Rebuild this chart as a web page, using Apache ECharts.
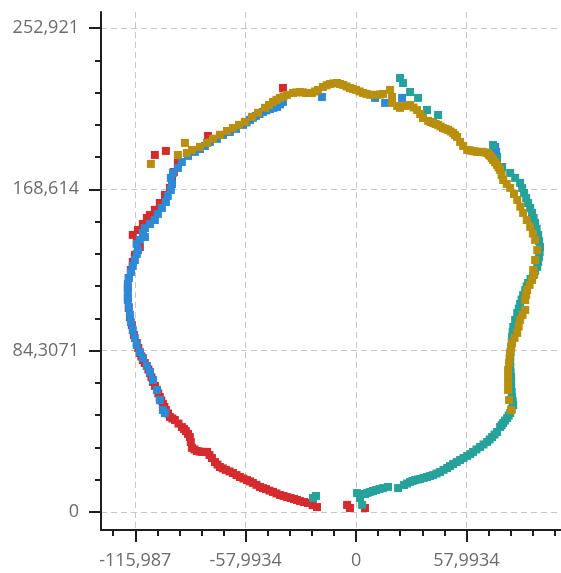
<!DOCTYPE html>
<html>
<head>
<meta charset="utf-8">
<script src="https://cdn.jsdelivr.net/npm/echarts@6/dist/echarts.min.js"></script>
<style>
html,body{margin:0;padding:0;background:#fff;}
#chart{width:561px;height:573px;}
</style>
</head>
<body>
<div id="chart"></div>
<script>
// ---- data (x, y) ----
const redPoints = [
  [4.7,2.1],[-3.2,2.1],[-4.7,3.7],[-20.5,2.6],[-22.8,3.6],[-25.2,4.7],[-27.3,5.2],[-29.4,5.7],[-31.0,6.3],
  [-32.6,6.8],[-34.4,7.3],[-36.3,7.8],[-38.1,8.4],[-40.0,8.9],[-41.8,9.7],[-43.6,10.5],[-45.5,11.2],
  [-47.3,12.0],[-48.9,12.5],[-50.5,13.1],[-52.3,14.2],[-54.2,15.2],[-55.7,16.0],[-57.3,16.7],[-59.2,17.5],
  [-61.0,18.3],[-62.8,19.3],[-64.7,20.4],[-66.5,21.2],[-68.4,22.0],[-70.0,22.8],[-71.5,23.5],[-72.8,24.8],
  [-74.1,26.1],[-75.7,28.2],[-77.0,29.8],[-78.3,31.4],[-79.6,31.4],[-81.0,31.4],[-82.3,31.6],
  [-83.6,31.9],[-84.9,32.7],[-86.2,33.5],[-86.8,36.6],[-87.3,39.2],[-88.3,40.8],[-89.4,42.3],[-90.4,43.4],
  [-91.5,44.4],[-93.3,46.2],[-95.2,48.1],[-96.5,48.9],[-97.8,49.7],[-98.8,51.5],[-99.9,53.3],[-100.7,54.9],
  [-101.5,56.5],[-102.3,58.3],[-103.1,60.1],[-103.9,62.0],[-104.6,63.8],[-105.6,65.9],[-106.7,68.0],
  [-107.5,70.4],[-108.3,72.7],[-109.1,74.5],[-109.9,76.3],[-111.0,77.9],[-112.0,79.4],[-112.8,81.3],
  [-113.6,83.1],[-114.4,85.7],[-115.2,88.3],[-116.7,92.5],[-117.8,97.7],[-118.8,101.9],
  [-119.4,106.6],[-119.9,111.9],[-119.9,117.1],[-119.4,122.3],[-118.3,126.5],[-117.3,130.7],
  [-116.2,134.3],[-114.6,136.9],[-113.6,138.5],[-115.2,140.6],[-117.3,144.8],[-114.6,147.4],
  [-112.0,150.5],[-109.9,153.7],[-108.3,155.2],[-105.7,157.9],[-103.1,161.5],[-100.4,165.7],
  [-97.8,169.4],[-96.7,173.5],[-95.7,177.7],[-93.6,182.4],
  [-105.7,186.6],[-99.9,188.7],[-77.8,196.5],[-38.4,221.6]
];
const bluePoints = [
  [-100.4,51.7],[-101.5,53.3],[-103.1,58.5],[-104.6,63.8],[-106.7,69.0],[-108.3,73.2],[-109.9,76.3],
  [-112.0,80.5],[-113.6,83.6],[-115.2,87.3],[-116.2,90.9],[-117.3,95.1],[-118.3,99.3],[-118.8,103.0],
  [-119.4,107.2],[-119.9,110.8],[-119.9,115.0],[-119.9,119.2],[-119.4,122.3],[-118.3,125.4],
  [-117.3,128.6],[-116.2,131.7],[-115.2,134.9],[-114.6,136.9],[-115.2,140.1],[-113.6,142.2],
  [-110.9,143.7],[-112.0,145.8],[-110.9,148.4],[-108.3,150.5],[-105.7,152.6],[-104.1,155.8],
  [-102.0,158.9],[-99.9,162.0],[-98.9,165.2],[-97.3,168.3],[-96.7,171.4],[-97.3,174.6],[-96.2,177.2],
  [-93.6,179.8],[-91.5,182.9],[-88.3,186.1],[-84.7,188.2],[-82.0,189.7],[-79.4,191.3],[-76.8,193.4],
  [-73.1,195.0],[-69.9,197.1],[-66.3,198.6],[-63.1,200.2],[-59.4,202.3],[-57.5,203.6],[-55.7,204.9],
  [-54.2,206.0],[-52.6,207.0],[-50.7,208.0],[-48.9,209.1],[-47.1,209.9],[-45.2,210.6],[-43.4,211.2],
  [-41.5,211.7],[-39.9,213.0],[-38.4,214.3],[-17.9,216.9],[10.0,216.4],[15.3,213.8],
  [24.2,216.4],[73.1,190.8],[73.6,188.2],[74.1,185.6]
];
const tealPoints = [
  [-22.6,7.3],[-21.0,8.4],[0.5,9.9],[2.1,7.3],[3.2,3.7],[4.7,9.4],[5.9,10.0],[7.4,10.5],[8.9,11.0],
  [10.5,11.5],[12.3,12.0],[14.2,12.5],[16.8,13.1],[22.1,12.5],[25.2,14.1],[26.8,14.9],[28.4,15.7],
  [29.7,16.2],[31.0,16.7],[32.4,17.0],[33.7,17.3],[35.5,17.8],[37.3,18.3],[38.9,18.8],[40.5,19.3],
  [42.3,20.1],[44.2,20.9],[46.0,22.0],[47.9,23.0],[49.4,24.0],[51.0,25.1],[52.9,26.1],[54.7,27.2],
  [56.5,28.2],[58.4,29.3],[60.0,30.3],[61.5,31.4],[63.3,32.7],[65.2,34.0],[67.0,35.3],[68.9,36.6],
  [70.2,37.9],[71.5,39.2],[72.8,40.5],[74.1,41.8],[75.7,44.4],[76.5,45.4],[77.3,46.5],[78.3,47.8],
  [79.4,49.1],[80.2,50.4],[81.0,51.7],[81.8,53.8],[82.6,55.9],[82.3,58.0],[82.0,60.1],[81.8,62.7],
  [81.5,65.3],[81.5,68.0],[81.5,70.6],[81.2,73.2],[81.0,75.8],[81.0,78.4],[81.0,81.0],[81.2,83.6],
  [81.5,86.2],[81.8,88.9],[82.0,91.5],[82.3,94.1],[82.6,96.7],[83.6,100.4],
  [84.7,104.0],[85.5,106.3],[86.2,108.7],[87.0,111.0],[87.8,113.4],[88.9,116.0],[89.6,117.9],
  [90.4,119.7],[91.7,121.8],[93.1,123.9],[94.1,126.0],[95.2,128.1],[95.7,130.7],
  [96.2,133.3],[96.5,135.9],[96.7,138.5],[96.2,141.6],[95.7,144.8],[94.9,148.0],[94.1,151.1],
  [93.3,153.7],[92.5,156.3],[91.5,158.9],[90.4,161.5],[89.4,164.1],[88.3,166.7],[87.3,169.3],
  [86.2,172.0],[83.6,174.6],[81.0,177.2],[76.8,180.3],[74.1,185.0],[72.0,191.8],
  [43.1,207.5],[37.3,210.1],[32.6,216.4],[28.4,219.5],[24.7,224.2],[23.1,226.8]
];
const goldPoints = [
  [-107.8,181.9],[-93.6,186.6],[-89.9,192.9],[-88.9,187.6],[-86.2,189.2],[-82.0,190.8],[-78.3,192.9],
  [-75.2,195.0],[-71.5,197.1],[-67.8,199.1],[-64.7,200.7],[-61.5,202.3],[-58.4,203.9],[-54.7,206.5],
  [-51.5,208.6],[-47.8,211.2],[-45.7,212.7],[-43.6,214.3],[-41.8,215.4],[-40.0,216.4],[-38.1,217.2],
  [-36.3,218.0],[-33.1,219.0],[-31.2,219.3],[-29.4,219.5],[-27.8,219.3],[-26.3,219.0],[-24.7,219.0],
  [-23.1,219.0],[-21.5,219.8],[-20.0,220.6],[-17.4,222.1],[-15.5,223.0],[-13.7,223.7],[-11.8,224.0],
  [-10.0,224.2],[-8.4,223.7],[-6.8,223.2],[-5.0,222.4],[-3.2,221.6],[-1.6,221.1],[0.0,220.6],[1.8,219.8],
  [3.7,219.0],[5.5,218.5],[7.4,218.0],[9.2,218.0],[11.0,218.0],[12.6,218.2],[14.2,218.5],[17.9,220.6],
  [18.9,216.9],[18.9,213.8],[21.6,212.2],[23.1,211.2],[25.8,212.2],[28.4,212.7],[30.2,211.4],[32.1,210.1],
  [33.7,208.0],[35.2,205.9],[37.9,204.4],[39.2,203.8],[40.5,203.3],[41.8,202.8],[43.1,202.3],[44.4,201.5],
  [45.7,200.7],[47.1,200.2],[48.4,199.7],[49.7,198.9],[51.0,198.1],[52.0,197.0],
  [53.1,196.0],[54.7,193.4],[56.3,191.3],[58.4,189.2],[59.7,189.0],[61.0,188.7],[62.3,188.5],[63.6,188.2],
  [65.0,188.2],[66.3,188.2],[67.6,187.9],[68.9,187.6],[69.7,186.8],[70.5,186.1],[71.3,185.0],[72.0,184.0],
  [73.1,182.7],[74.1,181.4],[74.9,180.1],[75.7,178.8],[76.5,176.1],[77.3,173.5],[79.2,171.5],[81.0,169.4],
  [83.0,166.2],[84.7,163.1],[86.3,159.6],[87.8,156.3],[89.7,152.6],[91.5,149.0],[92.9,145.5],[94.1,142.2],
  [95.2,136.9],[94.1,131.7],[93.1,126.5],[93.6,124.0],
  [92.5,121.3],[91.2,118.7],[89.9,116.0],[89.4,113.4],[88.9,110.8],[88.9,105.6],[87.5,103.0],[86.2,100.4],
  [85.5,97.0],[84.7,93.6],[83.3,91.0],[82.0,88.3],[81.5,85.7],
  [81.0,83.1],[80.7,80.5],[80.4,77.9],[79.9,74.2],[79.9,70.6],[79.9,67.2],[79.9,63.8],[80.4,58.5],[81.5,53.3]
];
// ---- axis ticks ----
const xMajorTicks = [-115.9868, -57.9934, 0, 57.9934];
const yMajorTicks = [0, 84.3071, 168.6142, 252.9213];
const xRange = [-134.0, 107.7];
const yRange = [-9.4, 261.3];

function minorsOf(majors, lo, hi) {
  const step = (majors[1] - majors[0]) / 5;
  const out = [];
  const start = Math.ceil((lo - majors[0]) / step);
  const end = Math.floor((hi - majors[0]) / step);
  for (let k = start; k <= end; k++) out.push(majors[0] + k * step);
  return out;
}
const xMinorTicks = minorsOf(xMajorTicks, xRange[0] + 0.5, xRange[1] - 0.5);
const yMinorTicks = minorsOf(yMajorTicks, yRange[0] + 0.5, yRange[1] - 0.5);

function fmt(v) {
  return String(Number(Number(v).toPrecision(6))).replace('.', ',');
}

const labelStyle = { color: '#6b6b6b', fontSize: 18, fontFamily: 'Open Sans' };
const lineStyle = { color: '#1e1e1e', width: 2 };
const gridLine = { show: true, showMinLine: true, showMaxLine: true,
  lineStyle: { color: '#c6c6c6', width: 1, type: [6, 4] } };

const chart = echarts.init(document.getElementById('chart'), null, { renderer: 'canvas' });
chart.setOption({
  animation: false,
  backgroundColor: '#ffffff',
  grid: { left: 101, top: 12, right: 0, bottom: 43, containLabel: false },
  xAxis: [
    { type: 'value', min: xRange[0], max: xRange[1], position: 'bottom',
      axisLine: { show: true, onZero: false, lineStyle: lineStyle },
      axisTick: { show: true, length: 12, lineStyle: lineStyle, customValues: xMajorTicks },
      axisLabel: { show: true, margin: 22, customValues: xMajorTicks, formatter: fmt,
        showMinLabel: true, showMaxLabel: true, ...labelStyle },
      splitLine: gridLine },
    { type: 'value', min: xRange[0], max: xRange[1], position: 'bottom',
      axisLine: { show: false, onZero: false },
      axisTick: { show: true, length: 6, lineStyle: lineStyle, customValues: xMinorTicks },
      axisLabel: { show: false },
      splitLine: { show: false } }
  ],
  yAxis: [
    { type: 'value', min: yRange[0], max: yRange[1], position: 'left',
      axisLine: { show: true, onZero: false, lineStyle: lineStyle },
      axisTick: { show: true, length: 12, lineStyle: lineStyle, customValues: yMajorTicks },
      axisLabel: { show: true, margin: 22, customValues: yMajorTicks, formatter: fmt,
        showMinLabel: true, showMaxLabel: true, ...labelStyle },
      splitLine: gridLine },
    { type: 'value', min: yRange[0], max: yRange[1], position: 'left',
      axisLine: { show: false, onZero: false },
      axisTick: { show: true, length: 6, lineStyle: lineStyle, customValues: yMinorTicks },
      axisLabel: { show: false },
      splitLine: { show: false } }
  ],
  series: [
    { type: 'scatter', name: 'red', data: redPoints, symbol: 'rect', symbolSize: 8,
      itemStyle: { color: '#d62b2e', opacity: 1 }, silent: true },
    { type: 'scatter', name: 'blue', data: bluePoints, symbol: 'rect', symbolSize: 8,
      itemStyle: { color: '#2d8ad6', opacity: 1 }, silent: true },
    { type: 'scatter', name: 'teal', data: tealPoints, symbol: 'rect', symbolSize: 8,
      itemStyle: { color: '#26a29b', opacity: 1 }, silent: true },
    { type: 'scatter', name: 'gold', data: goldPoints, symbol: 'rect', symbolSize: 8,
      itemStyle: { color: '#b88f0e', opacity: 1 }, silent: true }
  ]
});
</script>
</body>
</html>
